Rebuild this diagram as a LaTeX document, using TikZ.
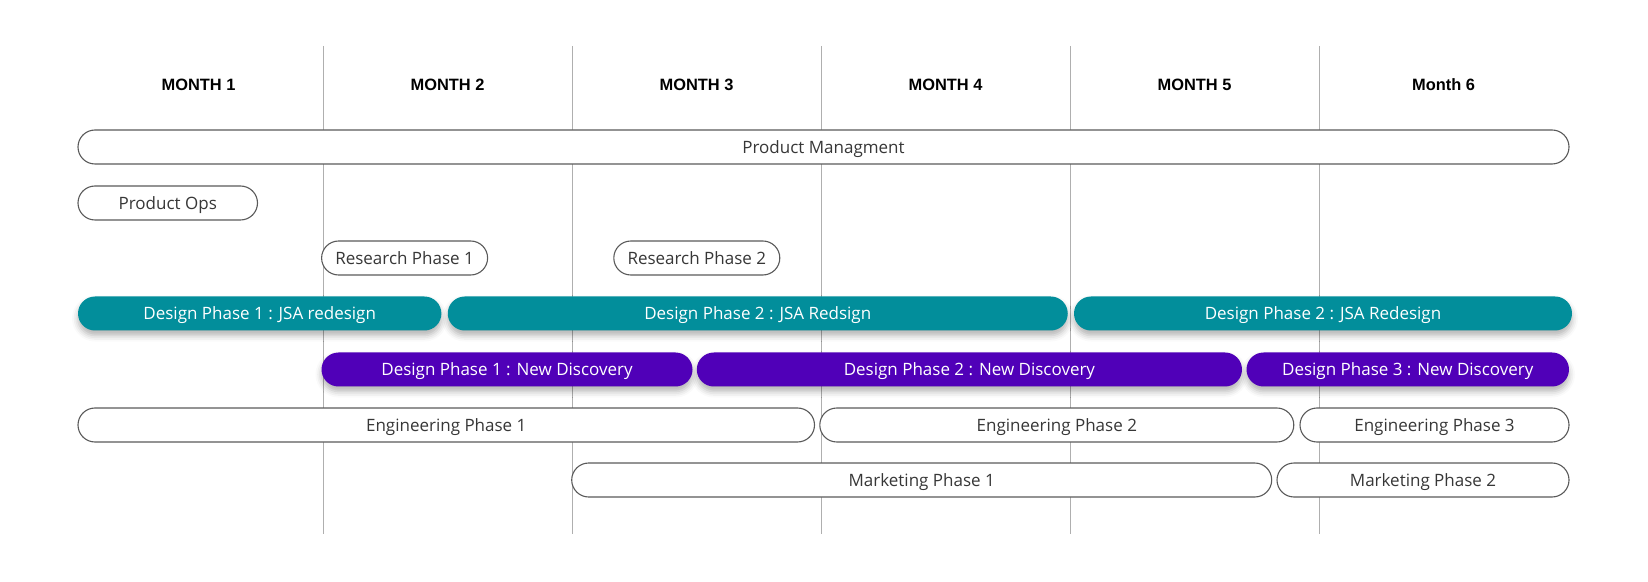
\documentclass[tikz,border=0pt]{standalone}
\usepackage{fontspec}
\setmainfont{Open Sans}
\newfontfamily\hdrfont{Liberation Sans}
\usetikzlibrary{shadows.blur}
\definecolor{teal}{RGB}{2,142,155}
\definecolor{purp}{RGB}{80,0,184}
\definecolor{outl}{RGB}{90,90,90}
\definecolor{txt}{RGB}{55,55,55}
\definecolor{grid}{RGB}{175,175,175}
\tikzset{
  bar/.style={draw=outl, line width=0.55pt, fill=white, rounded corners=8.5pt,
    minimum height=17pt, inner sep=0pt, text=txt, text height=6.1pt, text depth=0pt,
    font=\fontsize{8.5pt}{10pt}\selectfont},
  tealbar/.style={bar, draw=none, fill=teal, text=white,
    blur shadow={shadow xshift=0pt, shadow yshift=-2.5pt, shadow blur radius=3pt, shadow opacity=30}},
  purpbar/.style={bar, draw=none, fill=purp, text=white,
    blur shadow={shadow xshift=0pt, shadow yshift=-2.5pt, shadow blur radius=3pt, shadow opacity=30}},
  hdr/.style={font=\hdrfont\bfseries\fontsize{8.2pt}{10pt}\selectfont, text=black, inner sep=0pt},
  gridline/.style={draw=grid, line width=0.5pt},
}
\begin{document}
\begin{tikzpicture}[x=0.5pt, y=-0.5pt]
\useasboundingbox (0,0) rectangle (1648,582);
% month headers
\node[hdr] (m1) at (198.5,85) {MONTH 1};
\node[hdr] (m2) at (447.5,85) {MONTH 2};
\node[hdr] (m3) at (696.5,85) {MONTH 3};
\node[hdr] (m4) at (945.5,85) {MONTH 4};
\node[hdr] (m5) at (1194.5,85) {MONTH 5};
\node[hdr] (m6) at (1443.5,85) {Month 6};
% grid lines
\foreach \gx in {323,572,821,1070,1319}
  \draw[gridline] (\gx,46) -- (\gx,534);
% rows
\node[bar, minimum width=745.5pt] (pm) at (823.5,147) {Product Managment};
\node[bar, minimum width=89.75pt] (ops) at (167.75,203) {Product Ops};
\node[bar, minimum width=83pt] (r1) at (404.6,258) {Research Phase 1};
\node[bar, minimum width=83pt] (r2) at (696.8,258) {Research Phase 2};
\node[tealbar, minimum width=181.7pt] (d1) at (259.7,313.5) {Design Phase 1 : JSA redesign};
\node[tealbar, minimum width=310pt] (d2) at (757.75,313.5) {Design Phase 2 : JSA Redsign};
\node[tealbar, minimum width=249pt] (d3) at (1323,313.5) {Design Phase 2 : JSA Redesign};
\node[purpbar, minimum width=185.5pt] (n1) at (507,369.5) {Design Phase 1 : New Discovery};
\node[purpbar, minimum width=272.6pt] (n2) at (969.4,369.5) {Design Phase 2 : New Discovery};
\node[purpbar, minimum width=161.25pt] (n3) at (1407.75,369.5) {Design Phase 3 : New Discovery};
\node[bar, minimum width=368.25pt] (e1) at (446.25,425) {Engineering Phase 1};
\node[bar, minimum width=237pt] (e2) at (1056.8,425) {Engineering Phase 2};
\node[bar, minimum width=134.5pt] (e3) at (1434.5,425) {Engineering Phase 3};
\node[bar, minimum width=350pt] (mk1) at (921.7,480) {Marketing Phase 1};
\node[bar, minimum width=146pt] (mk2) at (1423,480) {Marketing Phase 2};
\end{tikzpicture}
\end{document}
